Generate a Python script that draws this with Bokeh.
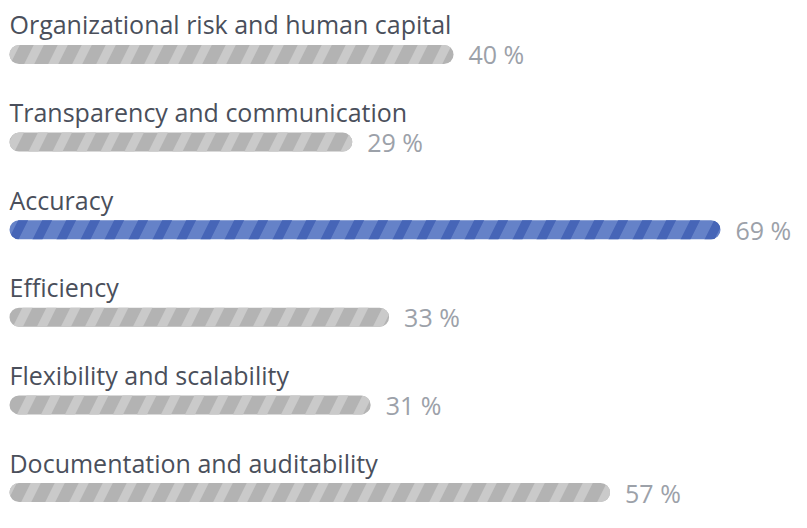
from bokeh.plotting import figure
from bokeh.models import Range1d, ColumnDataSource
from bokeh.core.properties import value
from bokeh.embed import file_html
from bokeh.resources import INLINE

categories = [
    "Organizational risk and human capital",
    "Transparency and communication",
    "Accuracy",
    "Efficiency",
    "Flexibility and scalability",
    "Documentation and auditability",
]
percent_values = [40, 29, 69, 33, 31, 57]
highlight = [False, False, True, False, False, False]

rows = list(range(len(categories)))
fills = ["#6582c8" if h else "#b3b3b3" for h in highlight]
hatches = ["#4665b7" if h else "#cacaca" for h in highlight]
pct_labels = [f"{v} %" for v in percent_values]

W, H = 791, 512
X_START, X_END = -9.21, 76.71
BAR_BASE = -8.234

src = ColumnDataSource(dict(
    y=rows, right=percent_values, cat=categories, pct=pct_labels,
    fill=fills, hatch=hatches,
))

p = figure(width=W, height=H, output_backend="svg", toolbar_location=None,
           x_range=Range1d(X_START, X_END), y_range=Range1d(5.2283, -0.6164),
           min_border=0, outline_line_color=None)
p.xaxis.visible = False
p.yaxis.visible = False
p.grid.visible = False
p.background_fill_color = "white"
p.border_fill_color = "white"

p.hbar(y="y", left=BAR_BASE, right="right", height=0.217, source=src,
       fill_color="fill", line_color=None, border_radius=10,
       hatch_pattern="right_diagonal_line", hatch_color="hatch",
       hatch_weight=9, hatch_scale=48)

p.text(x=BAR_BASE, y="y", text="cat", source=src, y_offset=-30,
       text_baseline="alphabetic", text_align="left",
       text_font=value("Open Sans"), text_font_size="25px",
       text_color="#4a4f5b")

p.text(x="right", y="y", text="pct", source=src, x_offset=15,
       text_baseline="middle", text_align="left",
       text_font=value("Open Sans"), text_font_size="25px",
       text_color="#9ca1a9")

open("out.html", "w").write(file_html(p, INLINE))
